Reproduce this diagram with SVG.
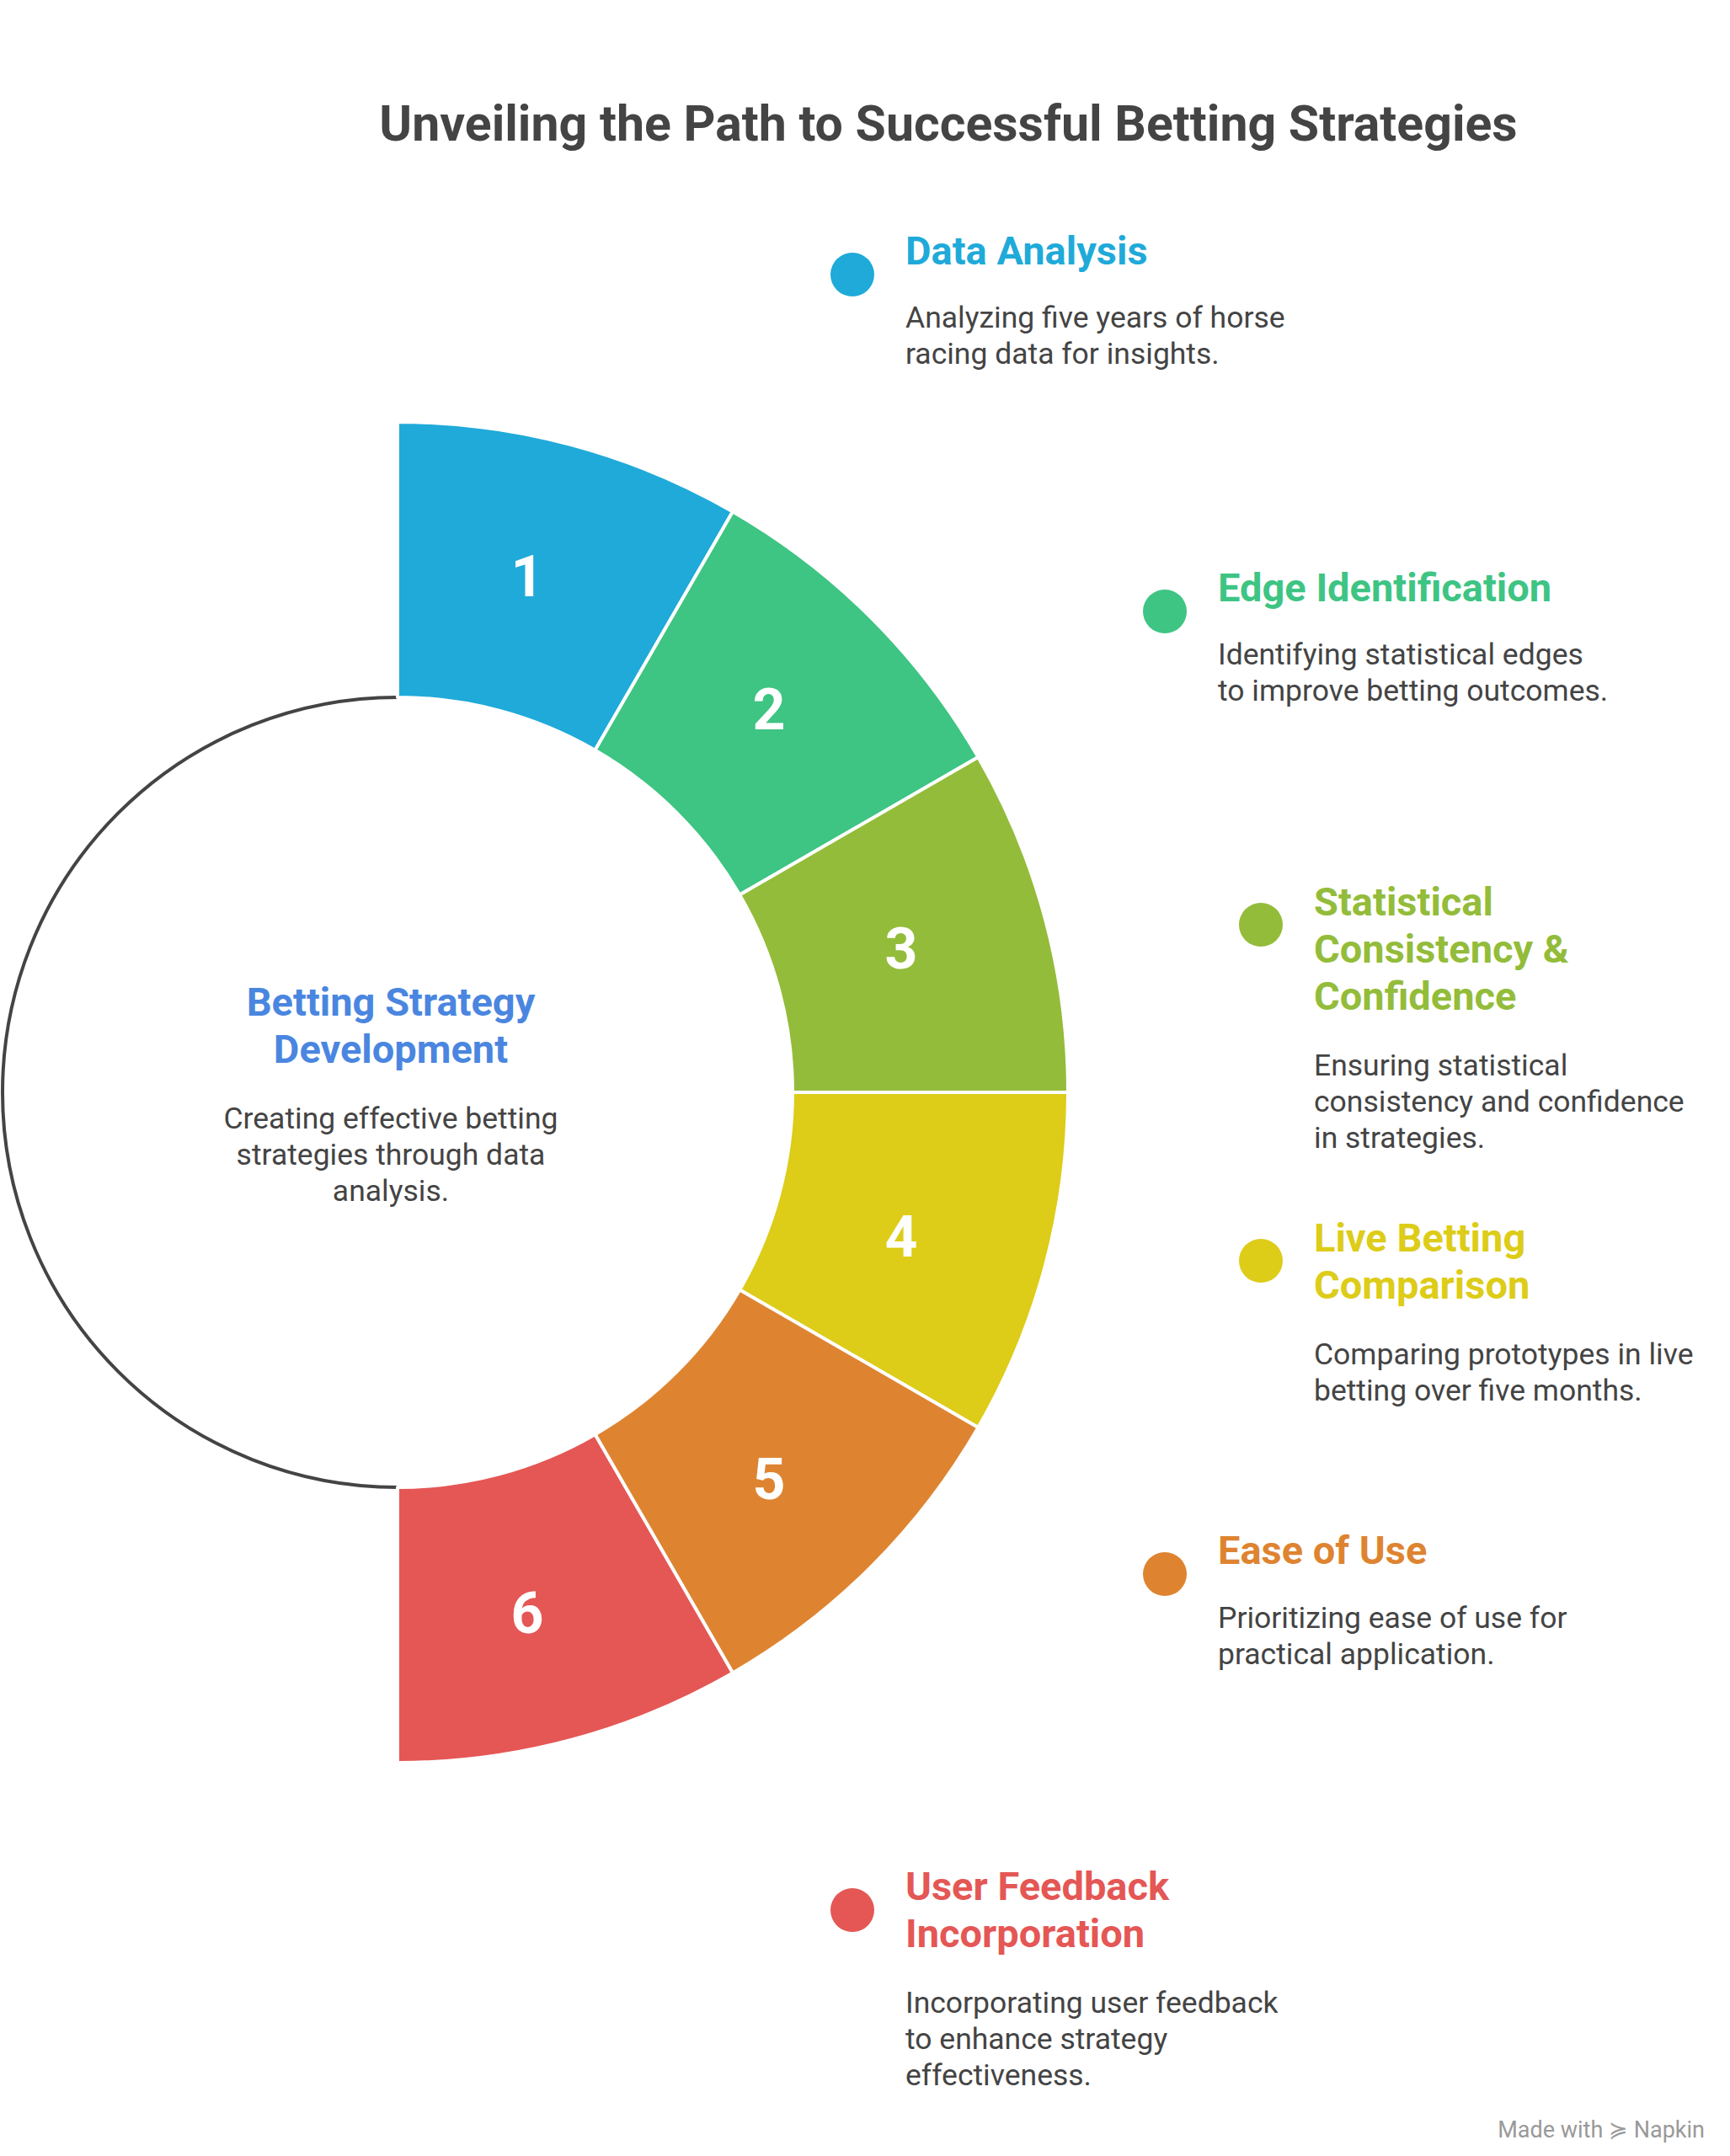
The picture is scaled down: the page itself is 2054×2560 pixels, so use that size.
<svg xmlns="http://www.w3.org/2000/svg" width="2054" height="2560" viewBox="0 0 2054 2560">
<style>
.seg{stroke:#fff;stroke-width:4;stroke-linejoin:round}
.num{font-family:Roboto,"Liberation Sans",sans-serif;font-weight:700;font-size:68px;fill:#fff;text-anchor:middle}
.h{font-family:Roboto,"Liberation Sans",sans-serif;font-weight:700;font-size:47px}
.d{font-family:Roboto,"Liberation Sans",sans-serif;font-size:35.5px;fill:#444}
</style>
<rect width="2054" height="2560" fill="#fff"/>
<text x="1126" y="167" text-anchor="middle" font-family="Roboto,'Liberation Sans',sans-serif" font-weight="700" font-size="59" fill="#444">Unveiling the Path to Successful Betting Strategies</text>
<g id="connectors">
<path d="M472,828 A469,469 0 0 0 472,1766" fill="none" stroke="#444" stroke-width="4"/>
</g>
<g id="center">
<text x="464" y="1206" text-anchor="middle" class="h" fill="#4A86E0">Betting Strategy</text>
<text x="464" y="1262" text-anchor="middle" class="h" fill="#4A86E0">Development</text>
<text x="464" y="1340" text-anchor="middle" class="d">Creating effective betting</text>
<text x="464" y="1383" text-anchor="middle" class="d">strategies through data</text>
<text x="464" y="1426" text-anchor="middle" class="d">analysis.</text>
</g>
<g id="seg1"><path class="seg" fill="#1FAAD9" d="M472,501 A796,796 0 0 1 870,607.6 L706.5,890.8 A469,469 0 0 0 472,828 Z"/><text class="num" x="626" y="708">1</text></g>
<g id="seg2"><path class="seg" fill="#3EC483" d="M870,607.6 A796,796 0 0 1 1161.4,899 L878.2,1062.5 A469,469 0 0 0 706.5,890.8 Z"/><text class="num" x="913" y="866">2</text></g>
<g id="seg3"><path class="seg" fill="#93BC3A" d="M1161.4,899 A796,796 0 0 1 1268,1297 L941,1297 A469,469 0 0 0 878.2,1062.5 Z"/><text class="num" x="1070" y="1150">3</text></g>
<g id="seg4"><path class="seg" fill="#DDCC18" d="M1268,1297 A796,796 0 0 1 1161.4,1695 L878.2,1531.5 A469,469 0 0 0 941,1297 Z"/><text class="num" x="1070" y="1492">4</text></g>
<g id="seg5"><path class="seg" fill="#DE8431" d="M1161.4,1695 A796,796 0 0 1 870,1986.4 L706.5,1703.2 A469,469 0 0 0 878.2,1531.5 Z"/><text class="num" x="913" y="1780">5</text></g>
<g id="seg6"><path class="seg" fill="#E45755" d="M870,1986.4 A796,796 0 0 1 472,2093 L472,1766 A469,469 0 0 0 706.5,1703.2 Z"/><text class="num" x="626" y="1939">6</text></g>
<g id="item1"><circle cx="1012" cy="326" r="26" fill="#1FAAD9"/><text x="1075" y="314" class="h" fill="#1FAAD9">Data Analysis</text><text x="1075" y="389" class="d">Analyzing five years of horse</text><text x="1075" y="432" class="d">racing data for insights.</text></g>
<g id="item2"><circle cx="1383" cy="726" r="26" fill="#3EC483"/><text x="1446" y="714" class="h" fill="#3EC483">Edge Identification</text><text x="1446" y="789" class="d">Identifying statistical edges</text><text x="1446" y="832" class="d">to improve betting outcomes.</text></g>
<g id="item3"><circle cx="1497" cy="1098" r="26" fill="#93BC3A"/><text x="1560" y="1087" class="h" fill="#93BC3A">Statistical</text><text x="1560" y="1143" class="h" fill="#93BC3A">Consistency &amp;</text><text x="1560" y="1199" class="h" fill="#93BC3A">Confidence</text><text x="1560" y="1277" class="d">Ensuring statistical</text><text x="1560" y="1320" class="d">consistency and confidence</text><text x="1560" y="1363" class="d">in strategies.</text></g>
<g id="item4"><circle cx="1497" cy="1497" r="26" fill="#DDCC18"/><text x="1560" y="1486" class="h" fill="#DDCC18">Live Betting</text><text x="1560" y="1542" class="h" fill="#DDCC18">Comparison</text><text x="1560" y="1620" class="d">Comparing prototypes in live</text><text x="1560" y="1663" class="d">betting over five months.</text></g>
<g id="item5"><circle cx="1383" cy="1869" r="26" fill="#DE8431"/><text x="1446" y="1857" class="h" fill="#DE8431">Ease of Use</text><text x="1446" y="1933" class="d">Prioritizing ease of use for</text><text x="1446" y="1976" class="d">practical application.</text></g>
<g id="item6"><circle cx="1012" cy="2268" r="26" fill="#E45755"/><text x="1075" y="2256" class="h" fill="#E45755">User Feedback</text><text x="1075" y="2312" class="h" fill="#E45755">Incorporation</text><text x="1075" y="2390" class="d">Incorporating user feedback</text><text x="1075" y="2433" class="d">to enhance strategy</text><text x="1075" y="2476" class="d">effectiveness.</text></g>
<text x="2024" y="2538" text-anchor="end" font-family="Roboto,'Liberation Sans',sans-serif" font-size="27" fill="#999">Made with ≽ Napkin</text>
</svg>
